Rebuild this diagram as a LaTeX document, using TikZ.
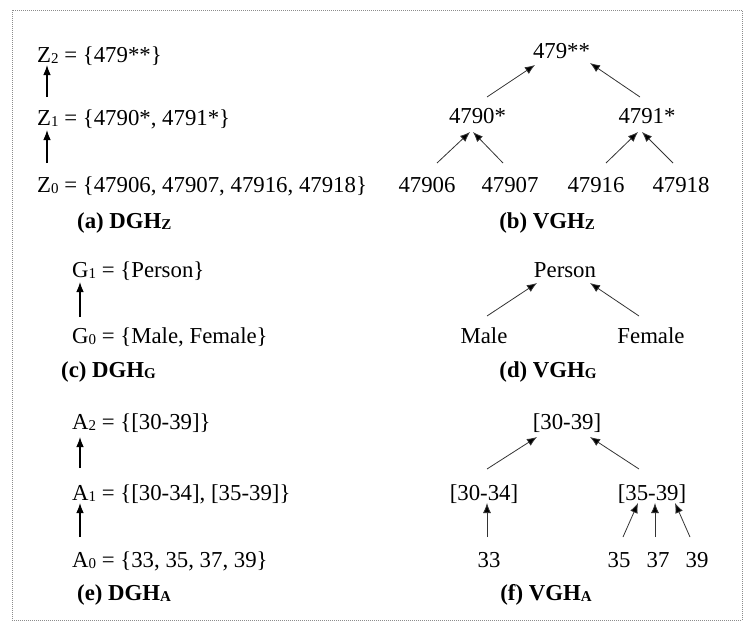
\documentclass[tikz,border=0pt]{standalone}
\usepackage{fontspec}
\setmainfont{Liberation Serif}
\usetikzlibrary{arrows.meta}
\newcommand\mysub[1]{\raisebox{-1.8pt}{\fontsize{15}{15}\selectfont #1}}
\begin{document}
\begin{tikzpicture}[x=1pt,y=-1pt,
  txt/.style={inner sep=0pt, font=\fontsize{22.8}{27}\selectfont},
  lt/.style={txt, anchor=base west},
  ct/.style={txt, anchor=base},
  capl/.style={lt, font=\fontsize{22.8}{27}\selectfont\bfseries},
  capc/.style={ct, font=\fontsize{22.8}{27}\selectfont\bfseries},
  arr/.style={-{Latex[length=10pt,width=7.5pt]}, line width=1.1pt},
  tarr/.style={-{Latex[length=10pt,width=8pt,fill=black]}, line width=0.8pt, draw=black!80},
  frame/.style={draw=black!45, line width=0.8pt, dash pattern=on 1pt off 1pt}
]
\useasboundingbox (0,0) rectangle (750,629);
\draw[frame] (12,10) rectangle (742,620);

% (a) DGH_Z
\node[lt] (z2) at (37,62) {Z\mysub{2} = \{479**\}};
\node[lt] (z1) at (37,125) {Z\mysub{1} = \{4790*, 4791*\}};
\node[lt] (z0) at (37,192) {Z\mysub{0} = \{47906, 47907, 47916, 47918\}};
\node[capl] (capa) at (77,228) {(a) DGH\mysub{Z}};
\draw[arr] ([shift={(10,-29)}]z0.base west) -- ([shift={(10,5)}]z1.base west);
\draw[arr] ([shift={(10,-28)}]z1.base west) -- ([shift={(10,3)}]z2.base west);

% (b) VGH_Z
\node[ct] (r) at (561.5,58) {479**};
\node[ct] (a0) at (477.5,123) {4790*};
\node[ct] (a1) at (647,123) {4791*};
\node[ct] (l1) at (427,192) {47906};
\node[ct] (l2) at (510,192) {47907};
\node[ct] (l3) at (596,192) {47916};
\node[ct] (l4) at (681,192) {47918};
\node[capc] (capb) at (547,228) {(b) VGH\mysub{Z}};
\draw[tarr] ([shift={(9.5,-26)}]a0.base) -- ([shift={(-26.5,7)}]r.base);
\draw[tarr] ([shift={(-7,-26)}]a1.base) -- ([shift={(28.5,5)}]r.base);
\draw[tarr] ([shift={(10,-29)}]l1.base) -- ([shift={(-7.5,9)}]a0.base);
\draw[tarr] ([shift={(-7,-29)}]l2.base) -- ([shift={(-4.5,9)}]a0.base);
\draw[tarr] ([shift={(10,-29)}]l3.base) -- ([shift={(-9,9)}]a1.base);
\draw[tarr] ([shift={(-8,-29)}]l4.base) -- ([shift={(-5,9)}]a1.base);

% (c) DGH_G
\node[lt] (g1) at (72,277) {G\mysub{1} = \{Person\}};
\node[lt] (g0) at (72,343) {G\mysub{0} = \{Male, Female\}};
\node[capl] (capc) at (61,377) {(c) DGH\mysub{G}};
\draw[arr] ([shift={(8,-26)}]g0.base west) -- ([shift={(8,5)}]g1.base west);

% (d) VGH_G
\node[ct] (person) at (565,277) {Person};
\node[ct] (male) at (484,343) {Male};
\node[ct] (female) at (651,343) {Female};
\node[capc] (capd) at (548,377) {(d) VGH\mysub{G}};
\draw[tarr] ([shift={(3,-27)}]male.base) -- ([shift={(-28,6)}]person.base);
\draw[tarr] ([shift={(-12,-27)}]female.base) -- ([shift={(25,6)}]person.base);

% (e) DGH_A
\node[lt] (ag2) at (72,429) {A\mysub{2} = \{[30-39]\}};
\node[lt] (ag1) at (72,500) {A\mysub{1} = \{[30-34], [35-39]\}};
\node[lt] (ag0) at (72,567) {A\mysub{0} = \{33, 35, 37, 39\}};
\node[capl] (cape) at (77,600) {(e) DGH\mysub{A}};
\draw[arr] ([shift={(8,-30)}]ag0.base west) -- ([shift={(8,3)}]ag1.base west);
\draw[arr] ([shift={(8,-32)}]ag1.base west) -- ([shift={(8,8)}]ag2.base west);

% (f) VGH_A
\node[ct] (ar) at (567,429) {[30-39]};
\node[ct] (al) at (484,500) {[30-34]};
\node[ct] (arr2) at (652,500) {[35-39]};
\node[ct] (v33) at (489,567) {33};
\node[ct] (v35) at (619,567) {35};
\node[ct] (v37) at (658,567) {37};
\node[ct] (v39) at (697,567) {39};
\node[capc] (capf) at (546,600) {(f) VGH\mysub{A}};
\draw[tarr] ([shift={(3,-31)}]al.base) -- ([shift={(-30,8)}]ar.base);
\draw[tarr] ([shift={(-13,-31)}]arr2.base) -- ([shift={(23,8)}]ar.base);
\draw[tarr] ([shift={(-2,-30)}]v33.base) -- ([shift={(3,3)}]al.base);
\draw[tarr] ([shift={(4,-30)}]v35.base) -- ([shift={(-14,3)}]arr2.base);
\draw[tarr] ([shift={(-3,-30)}]v37.base) -- ([shift={(3,3)}]arr2.base);
\draw[tarr] ([shift={(-7,-30)}]v39.base) -- ([shift={(23,3)}]arr2.base);
\end{tikzpicture}
\end{document}
